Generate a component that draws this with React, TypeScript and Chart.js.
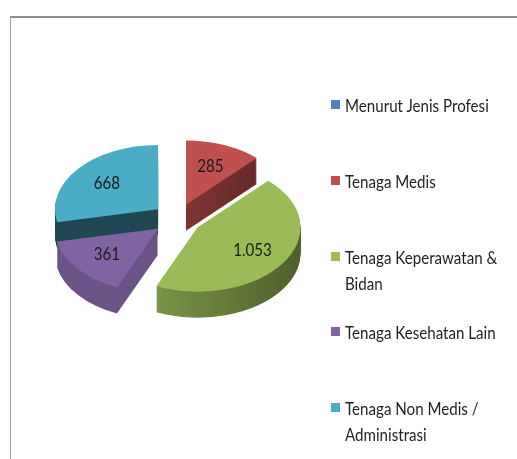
import React, { useEffect, useRef } from "react";
import { Chart, registerables } from "chart.js";

Chart.register(...registerables);

const categories = [
  "Menurut Jenis Profesi",
  "Tenaga Medis",
  "Tenaga Keperawatan & Bidan",
  "Tenaga Kesehatan Lain",
  "Tenaga Non Medis / Administrasi",
];
const values = [0, 285, 1053, 361, 668];
const colors = ["#4F81BD", "#C0504D", "#9BBB59", "#8064A2", "#4BACC6"];
const sideBrightness = [0.6, 0.72, 0.8, 0.84, 0.42];

const SQUASH = 0.624;
const EXPLODE = 24.5;
const DEPTH = 26;
const LABEL_FRAC = 0.64;
const FONT = 'Lato, "Open Sans", sans-serif';
const TEXT_SX = 0.84;

function formatId(v: number): string {
  return String(v).replace(/\B(?=(\d{3})+(?!\d))/g, ".");
}

const pie3d = {
  id: "pie3d",
  beforeDatasetsDraw(chart: any) {
    const ctx: CanvasRenderingContext2D = chart.ctx;
    const meta = chart.getDatasetMeta(0);
    const items = meta.data
      .map((el: any, i: number) => ({ el, i, mid: (el.startAngle + el.endAngle) / 2 }))
      .filter((it: any) => values[it.i] > 0);
    const order = [...items].sort((a: any, b: any) => Math.sin(a.mid) - Math.sin(b.mid));
    const place = (el: any, mid: number, dy: number) => {
      ctx.translate(0, dy + el.y * (1 - SQUASH));
      ctx.scale(1, SQUASH);
      ctx.translate(Math.cos(mid) * EXPLODE, Math.sin(mid) * EXPLODE);
    };
    ctx.save();
    for (const it of order) {
      for (let k = DEPTH; k >= 1; k--) {
        ctx.save();
        ctx.filter = `brightness(${sideBrightness[it.i]})`;
        place(it.el, it.mid, k);
        it.el.draw(ctx);
        ctx.restore();
      }
    }
    if (items.length) {
      const cx = items[0].el.x;
      ctx.globalCompositeOperation = "source-atop";
      const g = ctx.createLinearGradient(cx - 25, 0, cx + 130, 0);
      g.addColorStop(0, "rgba(0,0,0,0)");
      g.addColorStop(1, "rgba(0,0,0,0.38)");
      ctx.fillStyle = g;
      ctx.fillRect(0, 0, chart.width, chart.height);
    }
    ctx.restore();
    for (const it of order) {
      ctx.save();
      place(it.el, it.mid, 0);
      it.el.draw(ctx);
      ctx.restore();
    }
    return false;
  },
  afterDraw(chart: any) {
    const ctx: CanvasRenderingContext2D = chart.ctx;
    const meta = chart.getDatasetMeta(0);
    meta.data.forEach((el: any, i: number) => {
      if (!(values[i] > 0)) return;
      const mid = (el.startAngle + el.endAngle) / 2;
      const r = EXPLODE + LABEL_FRAC * el.outerRadius;
      const x = el.x + Math.cos(mid) * r;
      const y = el.y + SQUASH * Math.sin(mid) * r;
      ctx.save();
      ctx.font = `18px ${FONT}`;
      ctx.fillStyle = "#1a1a1a";
      ctx.textAlign = "center";
      ctx.textBaseline = "middle";
      ctx.translate(x, y);
      ctx.scale(TEXT_SX, 1);
      ctx.fillText(formatId(values[i]), 0, 0);
      ctx.restore();
    });
  },
};

export default function App() {
  const ref = useRef<HTMLCanvasElement | null>(null);
  useEffect(() => {
    if (!ref.current) return;
    const chart = new Chart(ref.current, {
      type: "pie",
      data: {
        labels: categories,
        datasets: [
          {
            data: values,
            backgroundColor: colors,
            borderWidth: 0,
            offset: 0,
            hoverOffset: 0,
          },
        ],
      },
      options: {
        responsive: false,
        animation: false,
        events: [],
        layout: { padding: { left: 74, right: 74, top: 0, bottom: 0 } },
        plugins: { legend: { display: false }, tooltip: { enabled: false } },
      },
      plugins: [pie3d as any],
    });
    return () => chart.destroy();
  }, []);

  return (
    <div
      style={{
        position: "fixed",
        left: 0,
        top: 0,
        width: 517,
        height: 459,
        background: "#fff",
        overflow: "hidden",
      }}
    >
      <div
        style={{
          position: "absolute",
          left: 10,
          top: 16,
          width: 700,
          height: 700,
          borderTop: "2px solid #8f8f8f",
          borderLeft: "1px solid #a3a3a3",
        }}
      />
      <canvas
        ref={ref}
        width={354}
        height={438}
        style={{ position: "absolute", left: 0, top: 0, width: 354, height: 438 }}
      />
      <div style={{ position: "absolute", left: 331, top: 0 }}>
        {categories.map((c, i) => (
          <div
            key={c}
            style={{ position: "absolute", left: 0, top: 92 + 75.8 * i, width: 180 }}
          >
            <div
              style={{
                position: "absolute",
                left: 0,
                top: 8,
                width: 9,
                height: 9,
                background: colors[i],
              }}
            />
            <div
              style={{
                position: "absolute",
                left: 14,
                top: 0,
                width: 162 / TEXT_SX,
                font: `18px ${FONT}`,
                lineHeight: "26px",
                color: "#1f1f1f",
                transform: `scaleX(${TEXT_SX})`,
                transformOrigin: "0 0",
              }}
            >
              {c}
            </div>
          </div>
        ))}
      </div>
    </div>
  );
}
